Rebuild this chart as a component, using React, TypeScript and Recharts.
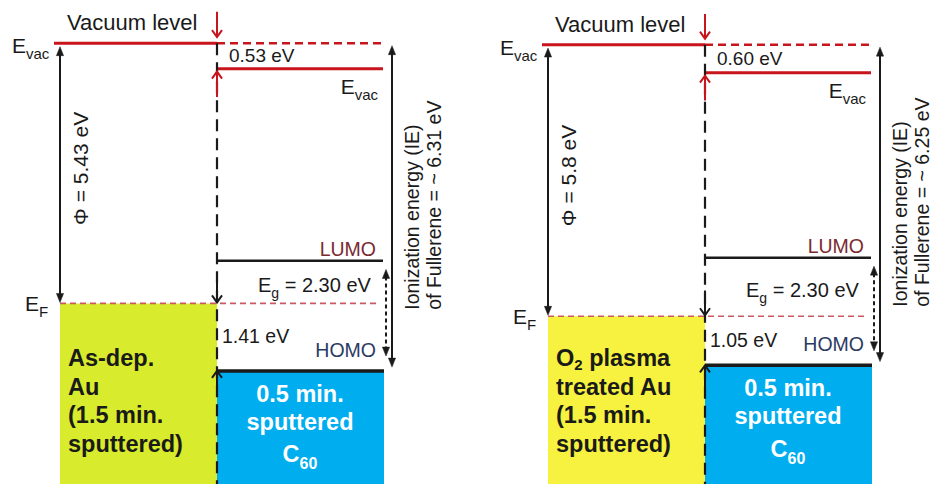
import { ComposedChart, XAxis, YAxis, ReferenceArea, ReferenceLine, ReferenceDot } from 'recharts';

// one entry per panel: left = as-deposited Au, right = O2 plasma treated Au (all in eV)
const workFunction = [5.43, 5.8];
const vacuumShift = [0.53, 0.6];
const ionizationEnergy = [6.31, 6.25];
const bandGap = [2.3, 2.3];
const holeBarrier = [1.41, 1.05];

const metalLabels = [
  ['As-dep.', 'Au', '(1.5 min.', 'sputtered)'],
  ['O_{2} plasma', 'treated Au', '(1.5 min.', 'sputtered)'],
];
const organicLabels = ['0.5 min.', 'sputtered', 'C_{60}'];
const metalColors = ['#d8eb2c', '#f6f23f'];

// energy window of each panel (vacuum level = 0)
const yTop = [0.904, 0.957];
const yBottom = [-9.2, -9.385];

const W = 448;
const H = 484;
const FONT = '"Liberation Sans", Arial, Helvetica, sans-serif';
const RED = '#c8141c';
const INK = '#1a1a1a';

// horizontal layout of a panel
const X = { evacStart: 54, metal: 60, iface: 217, orgEnd: 384, dashEnd: 386, efEnd: 378, eg: 386, ie: 392 };

type TxtProps = {
  x: number;
  y: number;
  s: string;
  size: number;
  sub?: number;
  subShift?: number;
  anchor?: 'start' | 'middle' | 'end';
  color?: string;
  weight?: number;
  rotate?: boolean;
};

function Txt({ x, y, s, size, sub = size * 0.7, subShift = 0.28, anchor = 'start', color = INK, weight = 400, rotate = false }: TxtProps) {
  const segs = s.split(/(_\{[^}]*\})/).filter(Boolean);
  const subDy = Math.round(size * subShift);
  let shifted = false;
  return (
    <text
      x={x}
      y={y}
      fontSize={size}
      fontWeight={weight}
      fill={color}
      textAnchor={anchor}
      fontFamily={FONT}
      transform={rotate ? `rotate(-90 ${x} ${y})` : undefined}
    >
      {segs.map((seg, k) => {
        if (seg.startsWith('_{')) {
          shifted = true;
          return (
            <tspan key={k} fontSize={sub} dy={subDy}>
              {seg.slice(2, -1)}
            </tspan>
          );
        }
        const dy = shifted ? -subDy : undefined;
        shifted = false;
        return (
          <tspan key={k} dy={dy}>
            {seg}
          </tspan>
        );
      })}
    </text>
  );
}

type ArrowOpts = { color: string; width?: number; dash?: string; both?: boolean; open?: boolean };

const arrow = ({ color, width = 2, dash, both = false, open = false }: ArrowOpts) => (p: any) => {
  const { x1, y1, x2, y2 } = p;
  const dir = y2 > y1 ? 1 : -1;
  const hl = open ? 7 : 9;
  const hw = open ? 5 : 3.6;
  const head = (x: number, y: number, d: number) => {
    const pts = `${x - hw},${y - d * hl} ${x},${y} ${x + hw},${y - d * hl}`;
    return open ? (
      <polyline points={pts} fill="none" stroke={color} strokeWidth={width} />
    ) : (
      <polygon points={pts} fill={color} stroke={color} strokeWidth={0.5} />
    );
  };
  const sy1 = both && !open ? y1 + dir * hl * 0.8 : y1;
  const sy2 = open ? y2 : y2 - dir * hl * 0.8;
  return (
    <g>
      <line x1={x1} y1={sy1} x2={x2} y2={sy2} stroke={color} strokeWidth={width} strokeDasharray={dash} />
      {head(x2, y2, dir)}
      {both && head(x1, y1, -dir)}
    </g>
  );
};

const label = (props: Omit<TxtProps, 'x' | 'y'> & { dx?: number; dy?: number }) => (p: any) => {
  const { dx = 0, dy = 0, ...rest } = props;
  return <Txt x={p.cx + dx} y={p.cy + dy} {...rest} />;
};

function Panel({ i }: { i: number }) {
  const evac = 0;
  const evac2 = -vacuumShift[i];
  const ef = -workFunction[i];
  const homo = -(vacuumShift[i] + ionizationEnergy[i]);
  const lumo = homo + bandGap[i];
  const bottom = yBottom[i];
  const seg = (xa: number, ya: number, xb: number, yb: number) => [
    { x: xa, y: ya },
    { x: xb, y: yb },
  ];

  return (
    <ComposedChart width={W} height={H} data={[{ x: 0, e: 0 }]} margin={{ top: 0, right: 0, bottom: 0, left: 0 }}>
      <XAxis type="number" dataKey="x" domain={[0, W]} hide allowDataOverflow />
      <YAxis type="number" dataKey="e" domain={[bottom, yTop[i]]} hide allowDataOverflow />

      <ReferenceArea x1={X.metal} x2={X.iface} y1={bottom} y2={ef} fill={metalColors[i]} fillOpacity={1} stroke="none" ifOverflow="visible" />
      <ReferenceArea x1={X.iface} x2={X.orgEnd} y1={bottom} y2={homo} fill="#00adef" fillOpacity={1} stroke="none" ifOverflow="visible" />

      {/* energy levels */}
      <ReferenceLine segment={seg(X.evacStart, evac, X.iface, evac)} stroke={RED} strokeWidth={3} ifOverflow="visible" />
      <ReferenceLine segment={seg(X.iface, evac, X.dashEnd, evac)} stroke={RED} strokeWidth={2.5} strokeDasharray="8 5" ifOverflow="visible" />
      <ReferenceLine segment={seg(X.iface, evac2, X.orgEnd - 1, evac2)} stroke={RED} strokeWidth={3} ifOverflow="visible" />
      <ReferenceLine segment={seg(X.metal, ef, X.efEnd, ef)} stroke="#c85a64" strokeWidth={1.6} strokeDasharray="6 4" ifOverflow="visible" />
      <ReferenceLine segment={seg(X.iface, lumo, X.orgEnd - 1, lumo)} stroke={INK} strokeWidth={2.5} ifOverflow="visible" />
      <ReferenceLine segment={seg(X.iface, homo, X.orgEnd, homo)} stroke={INK} strokeWidth={3.5} ifOverflow="visible" />
      <ReferenceLine segment={seg(X.iface, evac, X.iface, bottom)} stroke={INK} strokeWidth={2.2} strokeDasharray="12 7" ifOverflow="visible" />

      {/* arrows */}
      <ReferenceLine segment={seg(X.iface, evac + 0.66, X.iface, evac + 0.13)} ifOverflow="visible" shape={arrow({ color: RED, open: true })} />
      <ReferenceLine segment={seg(X.iface, evac2 - 0.59, X.iface, evac2 - 0.06)} ifOverflow="visible" shape={arrow({ color: RED, open: true })} />
      <ReferenceLine segment={seg(X.iface, ef + 0.55, X.iface, ef + 0.02)} ifOverflow="visible" shape={arrow({ color: INK, open: true })} />
      <ReferenceLine segment={seg(X.iface, homo - 0.47, X.iface, homo)} ifOverflow="visible" shape={arrow({ color: INK, open: true })} />
      <ReferenceLine segment={seg(X.metal, evac - 0.07, X.metal, ef + 0.02)} ifOverflow="visible" shape={arrow({ color: INK, both: true })} />
      <ReferenceLine segment={seg(X.ie, evac - 0.05, X.ie, homo + 0.08)} ifOverflow="visible" shape={arrow({ color: INK, both: true })} />
      <ReferenceLine segment={seg(X.eg, lumo - 0.18, X.eg, homo + 0.31)} ifOverflow="visible" shape={arrow({ color: INK, both: true, dash: '4 3' })} />

      {/* labels */}
      <ReferenceDot x={67} y={evac} ifOverflow="visible" shape={label({ s: 'Vacuum level', size: 22, dy: -13 })} />
      <ReferenceDot x={12} y={evac} ifOverflow="visible" shape={label({ s: 'E_{vac}', size: 21, sub: 15, dy: 10 })} />
      <ReferenceDot x={229} y={evac2 / 2} ifOverflow="visible" shape={label({ s: `${vacuumShift[i].toFixed(2)} eV`, size: 19, dy: 6.5 })} />
      <ReferenceDot x={378} y={evac2} ifOverflow="visible" shape={label({ s: 'E_{vac}', size: 21, sub: 15, anchor: 'end', dy: 25 })} />
      <ReferenceDot x={88} y={(evac + ef) / 2} ifOverflow="visible" shape={label({ s: `Φ = ${workFunction[i]} eV`, size: 21, anchor: 'middle', rotate: true, dy: -5 })} />
      <ReferenceDot x={419} y={lumo} ifOverflow="visible" shape={label({ s: 'Ionization energy (IE)', size: 19.5, rotate: true, dy: 49 })} />
      <ReferenceDot x={441} y={lumo} ifOverflow="visible" shape={label({ s: `of Fullerene = ~ ${ionizationEnergy[i].toFixed(2)} eV`, size: 19.5, rotate: true, dy: 49 })} />
      <ReferenceDot x={376} y={lumo} ifOverflow="visible" shape={label({ s: 'LUMO', size: 19.5, anchor: 'end', color: '#7a2a30', dy: -5 })} />
      <ReferenceDot x={258} y={(lumo + ef) / 2} ifOverflow="visible" shape={label({ s: `E_{g} = ${bandGap[i].toFixed(2)} eV`, size: 20, sub: 14, dy: 10 })} />
      <ReferenceDot x={222} y={(ef + homo) / 2} ifOverflow="visible" shape={label({ s: `${holeBarrier[i].toFixed(2)} eV`, size: 19.5, dy: 6 })} />
      <ReferenceDot x={376} y={homo} ifOverflow="visible" shape={label({ s: 'HOMO', size: 19.5, anchor: 'end', color: '#2b3b63', dy: -14 })} />
      <ReferenceDot x={25} y={ef} ifOverflow="visible" shape={label({ s: 'E_{F}', size: 21, sub: 15, dy: 8 })} />

      {metalLabels[i].map((t, k) => (
        <ReferenceDot key={`m${k}`} x={68} y={bottom} ifOverflow="visible" shape={label({ s: t, size: 23.5, sub: 15, subShift: 0.18, weight: 700, dy: -118 + k * 28.5 })} />
      ))}
      {organicLabels.map((t, k) => (
        <ReferenceDot key={`o${k}`} x={300} y={homo} ifOverflow="visible" shape={label({ s: t, size: 23.5, sub: 16, weight: 700, color: '#ffffff', anchor: 'middle', dy: [31, 59, 91.5][k] })} />
      ))}
    </ComposedChart>
  );
}

export default function App() {
  return (
    <div style={{ position: 'absolute', left: 0, top: 0, width: 936, height: 484, background: '#ffffff', overflow: 'hidden' }}>
      <div style={{ position: 'absolute', left: 0, top: 0 }}>
        <Panel i={0} />
      </div>
      <div style={{ position: 'absolute', left: 488, top: 0 }}>
        <Panel i={1} />
      </div>
    </div>
  );
}
